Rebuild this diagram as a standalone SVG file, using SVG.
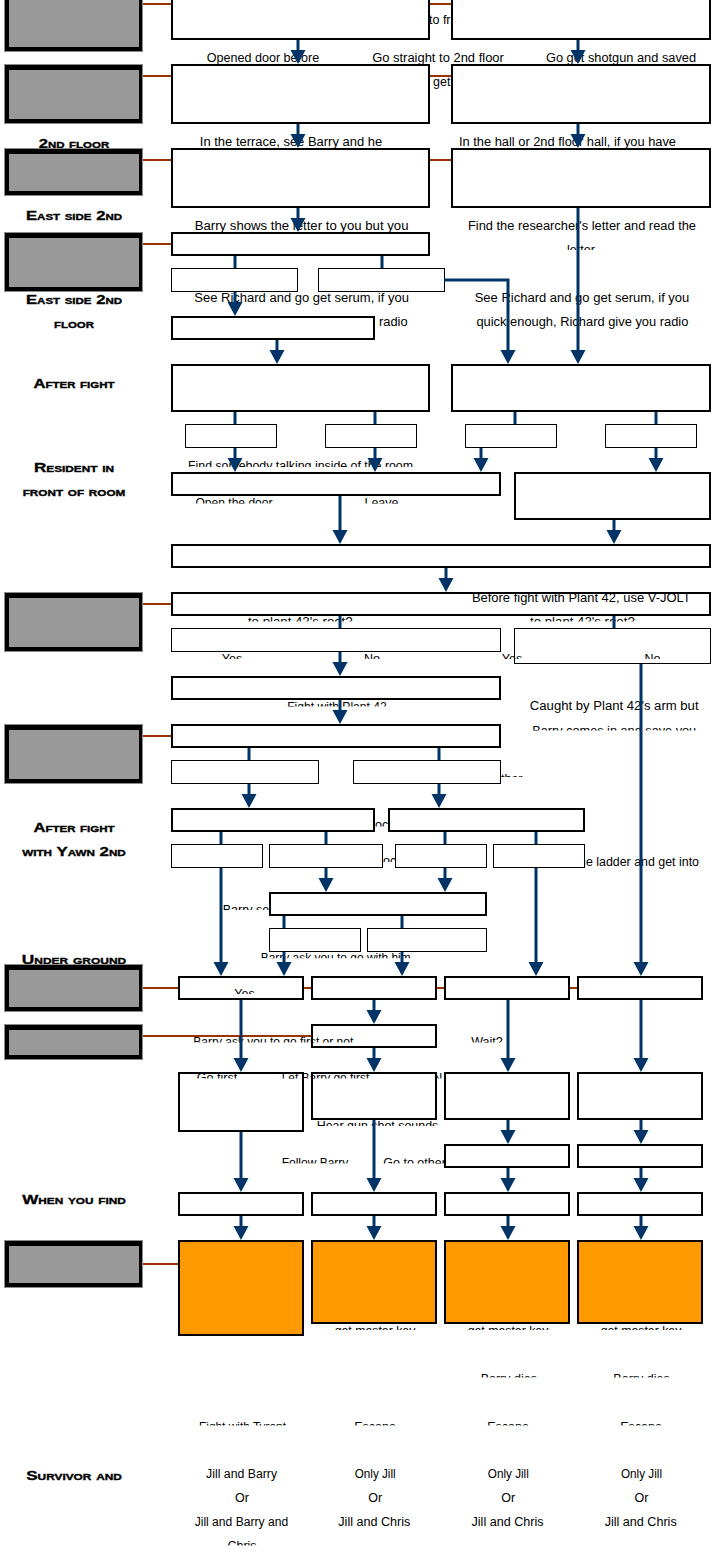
<svg xmlns="http://www.w3.org/2000/svg" width="713" height="1554" viewBox="0 0 713 1554">
<style>
.po{fill:#000;stroke:#8c8c8c;stroke-width:1}
.pi{fill:#999}
.bl{fill:none;stroke:#993300;stroke-width:2}
.b{fill:#fff;stroke:#000;stroke-width:2}
.t{fill:#fff;stroke:#000;stroke-width:1}
.o{fill:#ff9900;stroke:#000;stroke-width:2}
.c{fill:none;stroke:#003366;stroke-width:3}
.c.a{marker-end:url(#ah)}
.tx{font-family:'Liberation Sans',Arial,sans-serif;font-size:12.5px;fill:#000;text-anchor:middle}
.s{text-anchor:start}
.lb{font-family:'Liberation Sans',Arial,sans-serif;font-size:13px;font-weight:bold;font-variant:small-caps;fill:#000;stroke:#000;stroke-width:0.35;text-anchor:middle}
</style>
<defs>
<marker id="ah" markerUnits="userSpaceOnUse" markerWidth="16" markerHeight="16" viewBox="0 -8 16 16" refX="9" refY="0" orient="auto" overflow="visible"><path d="M0,-7.5 L14,0 L0,7.5 z" fill="#003366"/></marker>
<clipPath id="c250"><rect x="0" y="0" width="713" height="250"/></clipPath>
<clipPath id="c467"><rect x="0" y="0" width="713" height="467"/></clipPath>
<clipPath id="c503"><rect x="0" y="0" width="713" height="503.5"/></clipPath>
<clipPath id="c621"><rect x="0" y="0" width="713" height="621.5"/></clipPath>
<clipPath id="c659"><rect x="0" y="0" width="713" height="659"/></clipPath>
<clipPath id="c706"><rect x="0" y="0" width="713" height="706.5"/></clipPath>
<clipPath id="c730"><rect x="0" y="0" width="713" height="730.5"/></clipPath>
<clipPath id="c777"><rect x="0" y="0" width="713" height="777"/></clipPath>
<clipPath id="c826"><rect x="0" y="0" width="713" height="826.5"/></clipPath>
<clipPath id="c862"><rect x="0" y="0" width="713" height="862"/></clipPath>
<clipPath id="c910"><rect x="0" y="0" width="713" height="910"/></clipPath>
<clipPath id="c958"><rect x="0" y="0" width="713" height="958.3"/></clipPath>
<clipPath id="c994"><rect x="0" y="0" width="713" height="994"/></clipPath>
<clipPath id="c1042"><rect x="0" y="0" width="713" height="1042.5"/></clipPath>
<clipPath id="c1078"><rect x="0" y="0" width="713" height="1078.5"/></clipPath>
<clipPath id="c1126"><rect x="0" y="0" width="713" height="1126"/></clipPath>
<clipPath id="c1163"><rect x="0" y="0" width="713" height="1163.5"/></clipPath>
<clipPath id="c1330"><rect x="0" y="0" width="713" height="1330"/></clipPath>
<clipPath id="c1377"><rect x="0" y="0" width="713" height="1377.5"/></clipPath>
<clipPath id="c1425"><rect x="0" y="0" width="713" height="1425.5"/></clipPath>
<clipPath id="c1545"><rect x="0" y="0" width="713" height="1545.5"/></clipPath>
</defs>

<g id="labels">
<text class="lb" x="74" y="148" textLength="70.6" lengthAdjust="spacingAndGlyphs">2nd floor</text>
<text class="lb" x="74" y="220" textLength="96" lengthAdjust="spacingAndGlyphs">East side 2nd</text>
<text class="lb" x="74" y="303.5" textLength="96" lengthAdjust="spacingAndGlyphs">East side 2nd</text>
<text class="lb" x="74" y="328" textLength="40" lengthAdjust="spacingAndGlyphs">floor</text>
<text class="lb" x="74" y="388" textLength="81" lengthAdjust="spacingAndGlyphs">After fight</text>
<text class="lb" x="74" y="472" textLength="80" lengthAdjust="spacingAndGlyphs">Resident in</text>
<text class="lb" x="74" y="496" textLength="102.6" lengthAdjust="spacingAndGlyphs">front of room</text>
<text class="lb" x="74" y="832" textLength="81" lengthAdjust="spacingAndGlyphs">After fight</text>
<text class="lb" x="74" y="856" textLength="103.5" lengthAdjust="spacingAndGlyphs">with Yawn 2nd</text>
<text class="lb" x="74" y="964" textLength="104.4" lengthAdjust="spacingAndGlyphs">Under ground</text>
<text class="lb" x="74" y="1204" textLength="103.5" lengthAdjust="spacingAndGlyphs">When you find</text>
<text class="lb" x="74" y="1480" textLength="95.7" lengthAdjust="spacingAndGlyphs">Survivor and</text>
</g>

<g id="panels">
<g id="panel-1"><rect class="po" x="4.5" y="-7.5" width="138" height="59"/><rect class="pi" x="9" y="-2" width="130" height="49"/></g>
<g id="panel-2"><rect class="po" x="4.5" y="64.5" width="138" height="59"/><rect class="pi" x="9" y="70" width="130" height="49"/></g>
<g id="panel-3"><rect class="po" x="4.5" y="148.5" width="138" height="47"/><rect class="pi" x="9" y="154" width="130" height="37"/></g>
<g id="panel-4"><rect class="po" x="4.5" y="232.5" width="138" height="59"/><rect class="pi" x="9" y="238" width="130" height="49"/></g>
<g id="panel-5"><rect class="po" x="4.5" y="592.5" width="138" height="59"/><rect class="pi" x="9" y="598" width="130" height="49"/></g>
<g id="panel-6"><rect class="po" x="4.5" y="724.5" width="138" height="59"/><rect class="pi" x="9" y="730" width="130" height="49"/></g>
<g id="panel-7"><rect class="po" x="4.5" y="964.5" width="138" height="47"/><rect class="pi" x="9" y="970" width="130" height="37"/></g>
<g id="panel-8"><rect class="po" x="4.5" y="1024.5" width="138" height="35"/><rect class="pi" x="9" y="1030" width="130" height="25"/></g>
<g id="panel-9"><rect class="po" x="4.5" y="1240.5" width="138" height="47"/><rect class="pi" x="9" y="1246" width="130" height="37"/></g>
</g>

<g id="panel-links">
<path class="bl" d="M143 4H171M430 4H451M143 76H171M430 76H451M143 160H171M430 160H451M143 244H171M143 604H171M143 736H171M143 988H178M304 988H311M437 988H444M570 988H577M143 1036H311M143 1264H178"/>
</g>

<g id="hidden-text">
<text class="tx s" x="429" y="24">to fr</text>
<text class="tx s" x="433" y="85.5">get</text>
<text class="tx" x="301.6" y="326" textLength="212" lengthAdjust="spacingAndGlyphs">quick enough, Richard give you radio</text>
<text class="tx s" x="494" y="783" clip-path="url(#c777)">other</text>
<text class="tx s" x="375" y="829" clip-path="url(#c826)">oc</text>
<text class="tx s" x="383" y="865" clip-path="url(#c862)">oc</text>
<text class="tx s" x="579" y="866" textLength="120" lengthAdjust="spacingAndGlyphs">he ladder and get into</text>
<text class="tx s" x="222.7" y="914" clip-path="url(#c910)">Barry see</text>
<text class="tx s" x="433.3" y="1082" clip-path="url(#c1078)">N</text>
<text class="tx s" x="383.3" y="1167" clip-path="url(#c1163)">Go to other</text>
</g>

<g id="nodes">
<g id="n1l"><rect class="b" x="172" y="-10" width="257" height="49"/></g>
<g id="n1r"><rect class="b" x="452" y="-10" width="258" height="49"/></g>
<g id="n2l"><rect class="b" x="172" y="65" width="257" height="58"/></g>
<g id="n2r"><rect class="b" x="452" y="65" width="258" height="58"/></g>
<g id="n3l"><rect class="b" x="172" y="149" width="257" height="58"/></g>
<g id="n3r"><rect class="b" x="452" y="149" width="258" height="58"/></g>
<g id="n4"><rect class="b" x="172" y="233" width="257" height="22"/></g>
<g id="n4a"><rect class="t" x="171.5" y="268.5" width="126" height="23"/></g>
<g id="n4b"><rect class="t" x="318.5" y="268.5" width="126" height="23"/></g>
<g id="n5"><rect class="b" x="172" y="317" width="202" height="22"/></g>
<g id="n6l"><rect class="b" x="172" y="365" width="257" height="46"/></g>
<g id="n6r"><rect class="b" x="452" y="365" width="258" height="46"/></g>
<g id="n6a"><rect class="t" x="185.5" y="424.5" width="91" height="23"/></g>
<g id="n6b"><rect class="t" x="325.5" y="424.5" width="91" height="23"/></g>
<g id="n6c"><rect class="t" x="465.5" y="424.5" width="91" height="23"/></g>
<g id="n6d"><rect class="t" x="605.5" y="424.5" width="91" height="23"/></g>
<g id="n7l"><rect class="b" x="172" y="473" width="328" height="22"/></g>
<g id="n7r"><rect class="b" x="515" y="473" width="195" height="46"/></g>
<g id="n8"><rect class="b" x="172" y="545" width="538" height="22"/></g>
<g id="n9"><rect class="b" x="172" y="593" width="538" height="22"/></g>
<g id="n9a"><rect class="t" x="171.5" y="628.5" width="329" height="23"/></g>
<g id="n9b"><rect class="t" x="514.5" y="628.5" width="196" height="35"/></g>
<g id="n10"><rect class="b" x="172" y="677" width="328" height="22"/></g>
<g id="n11"><rect class="b" x="172" y="725" width="328" height="22"/></g>
<g id="n11a"><rect class="t" x="171.5" y="760.5" width="147" height="23"/></g>
<g id="n11b"><rect class="t" x="353.5" y="760.5" width="147" height="23"/></g>
<g id="n12l"><rect class="b" x="172" y="809" width="202" height="22"/></g>
<g id="n12r"><rect class="b" x="389" y="809" width="195" height="22"/></g>
<g id="n12a"><rect class="t" x="171.5" y="844.5" width="91" height="23"/></g>
<g id="n12b"><rect class="t" x="269.5" y="844.5" width="113" height="23"/></g>
<g id="n12c"><rect class="t" x="395.5" y="844.5" width="91" height="23"/></g>
<g id="n12d"><rect class="t" x="493.5" y="844.5" width="91" height="23"/></g>
<g id="n13"><rect class="b" x="270" y="893" width="216" height="22"/></g>
<g id="n13a"><rect class="t" x="269.5" y="928.5" width="91" height="23"/></g>
<g id="n13b"><rect class="t" x="367.5" y="928.5" width="119" height="23"/></g>
<g id="u1"><rect class="b" x="179" y="977" width="124" height="22"/></g>
<g id="u2"><rect class="b" x="312" y="977" width="124" height="22"/></g>
<g id="u3"><rect class="b" x="445" y="977" width="124" height="22"/></g>
<g id="u4"><rect class="b" x="578" y="977" width="124" height="22"/></g>
<g id="u2b"><rect class="b" x="312" y="1025" width="124" height="22"/></g>
<g id="v1"><rect class="b" x="179" y="1073" width="124" height="58"/></g>
<g id="v2"><rect class="b" x="312" y="1073" width="124" height="46"/></g>
<g id="v3"><rect class="b" x="445" y="1073" width="124" height="46"/></g>
<g id="v4"><rect class="b" x="578" y="1073" width="124" height="46"/></g>
<g id="w3"><rect class="b" x="445" y="1145" width="124" height="22"/></g>
<g id="w4"><rect class="b" x="578" y="1145" width="124" height="22"/></g>
<g id="f1"><rect class="b" x="179" y="1193" width="124" height="22"/></g>
<g id="f2"><rect class="b" x="312" y="1193" width="124" height="22"/></g>
<g id="f3"><rect class="b" x="445" y="1193" width="124" height="22"/></g>
<g id="f4"><rect class="b" x="578" y="1193" width="124" height="22"/></g>
<g id="e1"><rect class="o" x="179" y="1241" width="124" height="94"/></g>
<g id="e2"><rect class="o" x="312" y="1241" width="124" height="82"/></g>
<g id="e3"><rect class="o" x="445" y="1241" width="124" height="82"/></g>
<g id="e4"><rect class="o" x="578" y="1241" width="124" height="82"/></g>
</g>

<g id="texts">
<text class="tx" x="263" y="61.5" textLength="112.5" lengthAdjust="spacingAndGlyphs">Opened door before</text>
<text class="tx" x="438" y="61.5" textLength="131.7" lengthAdjust="spacingAndGlyphs">Go straight to 2nd floor</text>
<text class="tx" x="621" y="61.5" textLength="150" lengthAdjust="spacingAndGlyphs">Go get shotgun and saved</text>
<text class="tx" x="291" y="145.5" textLength="182.3" lengthAdjust="spacingAndGlyphs">In the terrace, see Barry and he</text>
<text class="tx" x="567.5" y="145.5" textLength="217" lengthAdjust="spacingAndGlyphs">In the hall or 2nd floor hall, if you have</text>
<text class="tx" x="301.6" y="229.5" textLength="213.8" lengthAdjust="spacingAndGlyphs">Barry shows the letter to you but you</text>
<text class="tx" x="582" y="229.5" textLength="228" lengthAdjust="spacingAndGlyphs">Find the researcher's letter and read the</text>
<text class="tx" x="581" y="253.6" clip-path="url(#c250)">letter</text>
<text class="tx" x="301.6" y="302" textLength="214.7" lengthAdjust="spacingAndGlyphs">See Richard and go get serum, if you</text>
<text class="tx" x="582" y="302" textLength="214.7" lengthAdjust="spacingAndGlyphs">See Richard and go get serum, if you</text>
<text class="tx" x="582.4" y="326" textLength="212" lengthAdjust="spacingAndGlyphs">quick enough, Richard give you radio</text>
<text class="tx" x="300.5" y="470" textLength="225" lengthAdjust="spacingAndGlyphs" clip-path="url(#c467)">Find somebody talking inside of the room</text>
<text class="tx" x="234" y="506.7" textLength="77" lengthAdjust="spacingAndGlyphs" clip-path="url(#c503)">Open the door</text>
<text class="tx" x="381.5" y="506.7" clip-path="url(#c503)">Leave</text>
<text class="tx" x="581.3" y="602" textLength="218.8" lengthAdjust="spacingAndGlyphs">Before fight with Plant 42, use V-JOLT</text>
<text class="tx" x="300.3" y="626" textLength="104.7" lengthAdjust="spacingAndGlyphs" clip-path="url(#c621)">to plant 42's root?</text>
<text class="tx" x="582.4" y="626" textLength="104.7" lengthAdjust="spacingAndGlyphs" clip-path="url(#c621)">to plant 42's root?</text>
<text class="tx" x="232" y="662.7" clip-path="url(#c659)">Yes</text>
<text class="tx" x="372" y="662.7" clip-path="url(#c659)">No</text>
<text class="tx" x="512" y="662.7" clip-path="url(#c659)">Yes</text>
<text class="tx" x="652.5" y="662.7" clip-path="url(#c659)">No</text>
<text class="tx" x="337" y="711" textLength="99.6" lengthAdjust="spacingAndGlyphs" clip-path="url(#c706)">Fight with Plant 42</text>
<text class="tx" x="614.2" y="709.5" textLength="168.7" lengthAdjust="spacingAndGlyphs">Caught by Plant 42's arm but</text>
<text class="tx" x="614.2" y="735" textLength="164" lengthAdjust="spacingAndGlyphs" clip-path="url(#c730)">Barry comes in and save you</text>
<text class="tx" x="335.7" y="962" textLength="150" lengthAdjust="spacingAndGlyphs" clip-path="url(#c958)">Barry ask you to go with him</text>
<text class="tx" x="244.5" y="997.7" clip-path="url(#c994)">Yes</text>
<text class="tx" x="273.3" y="1046" textLength="160" lengthAdjust="spacingAndGlyphs" clip-path="url(#c1042)">Barry ask you to go first or not</text>
<text class="tx" x="487" y="1046" clip-path="url(#c1042)">Wait?</text>
<text class="tx" x="217" y="1082" clip-path="url(#c1078)">Go first</text>
<text class="tx" x="325.5" y="1082" textLength="87.6" lengthAdjust="spacingAndGlyphs" clip-path="url(#c1078)">Let Barry go first</text>
<text class="tx" x="377.5" y="1130" textLength="121.6" lengthAdjust="spacingAndGlyphs" clip-path="url(#c1126)">Hear gun shot sounds</text>
<text class="tx" x="315" y="1167" textLength="66.6" lengthAdjust="spacingAndGlyphs" clip-path="url(#c1163)">Follow Barry</text>
<text class="tx" x="375" y="1334.5" textLength="80.7" lengthAdjust="spacingAndGlyphs" clip-path="url(#c1330)">get master key</text>
<text class="tx" x="508" y="1334.5" textLength="80.7" lengthAdjust="spacingAndGlyphs" clip-path="url(#c1330)">get master key</text>
<text class="tx" x="641" y="1334.5" textLength="80.7" lengthAdjust="spacingAndGlyphs" clip-path="url(#c1330)">get master key</text>
<text class="tx" x="508.8" y="1382.7" clip-path="url(#c1377)">Barry dies</text>
<text class="tx" x="641.5" y="1382.7" clip-path="url(#c1377)">Barry dies</text>
<text class="tx" x="242.5" y="1430.5" textLength="87" lengthAdjust="spacingAndGlyphs" clip-path="url(#c1425)">Fight with Tyrant</text>
<text class="tx" x="375" y="1430.5" clip-path="url(#c1425)">Escape</text>
<text class="tx" x="508" y="1430.5" clip-path="url(#c1425)">Escape</text>
<text class="tx" x="641" y="1430.5" clip-path="url(#c1425)">Escape</text>
<text class="tx" x="241.6" y="1478" textLength="71" lengthAdjust="spacingAndGlyphs">Jill and Barry</text>
<text class="tx" x="242" y="1502">Or</text>
<text class="tx" x="241.4" y="1526" textLength="93.5" lengthAdjust="spacingAndGlyphs">Jill and Barry and</text>
<text class="tx" x="242" y="1550" clip-path="url(#c1545)">Chris</text>
<text class="tx" x="375.2" y="1478" textLength="41" lengthAdjust="spacingAndGlyphs">Only Jill</text>
<text class="tx" x="375.2" y="1502">Or</text>
<text class="tx" x="374.3" y="1526" textLength="72" lengthAdjust="spacingAndGlyphs">Jill and Chris</text>
<text class="tx" x="508.3" y="1478" textLength="41" lengthAdjust="spacingAndGlyphs">Only Jill</text>
<text class="tx" x="508.3" y="1502">Or</text>
<text class="tx" x="507.5" y="1526" textLength="72" lengthAdjust="spacingAndGlyphs">Jill and Chris</text>
<text class="tx" x="641.5" y="1478" textLength="41" lengthAdjust="spacingAndGlyphs">Only Jill</text>
<text class="tx" x="641.5" y="1502">Or</text>
<text class="tx" x="640.7" y="1526" textLength="72" lengthAdjust="spacingAndGlyphs">Jill and Chris</text>
</g>

<g id="connectors">
<path class="c a" d="M298 40V59"/>
<path class="c a" d="M298 124V143"/>
<path class="c a" d="M298 208V227"/>
<path class="c a" d="M578 40V59"/>
<path class="c a" d="M578 124V143"/>
<path class="c a" d="M578 208V359"/>
<path class="c" d="M235 256V268M382 256V268"/>
<path class="c a" d="M235 292V311"/>
<path class="c a" d="M444 280H508V359"/>
<path class="c a" d="M277 340V359"/>
<path class="c" d="M235 412V424M375 412V424M515 412V424M656 412V424"/>
<path class="c a" d="M235 448V467"/>
<path class="c a" d="M375 448V467"/>
<path class="c a" d="M481 448V467"/>
<path class="c a" d="M656 448V467"/>
<path class="c a" d="M340 496V539"/>
<path class="c a" d="M614 520V539"/>
<path class="c a" d="M446 568V587"/>
<path class="c" d="M340 616V628M614 616V628"/>
<path class="c a" d="M340 652V671"/>
<path class="c a" d="M641 664V971"/>
<path class="c a" d="M340 700V719"/>
<path class="c" d="M249 748V760M439 748V760"/>
<path class="c a" d="M249 784V803"/>
<path class="c a" d="M439 784V803"/>
<path class="c" d="M221 832V844M326 832V844M445 832V844M536 832V844"/>
<path class="c a" d="M221 868V971"/>
<path class="c a" d="M536 868V971"/>
<path class="c a" d="M326 868V887"/>
<path class="c a" d="M445 868V887"/>
<path class="c" d="M284 916V928M402 916V928"/>
<path class="c a" d="M284 952V971"/>
<path class="c a" d="M402 952V971"/>
<path class="c a" d="M241 1000V1067"/>
<path class="c a" d="M374 1000V1019"/>
<path class="c a" d="M508 1000V1067"/>
<path class="c a" d="M641 1000V1067"/>
<path class="c a" d="M374 1048V1067"/>
<path class="c a" d="M241 1132V1187"/>
<path class="c a" d="M374 1120V1187"/>
<path class="c a" d="M508 1120V1139"/>
<path class="c a" d="M641 1120V1139"/>
<path class="c a" d="M508 1168V1187"/>
<path class="c a" d="M641 1168V1187"/>
<path class="c a" d="M241 1216V1235"/>
<path class="c a" d="M374 1216V1235"/>
<path class="c a" d="M508 1216V1235"/>
<path class="c a" d="M641 1216V1235"/>
</g>
</svg>
